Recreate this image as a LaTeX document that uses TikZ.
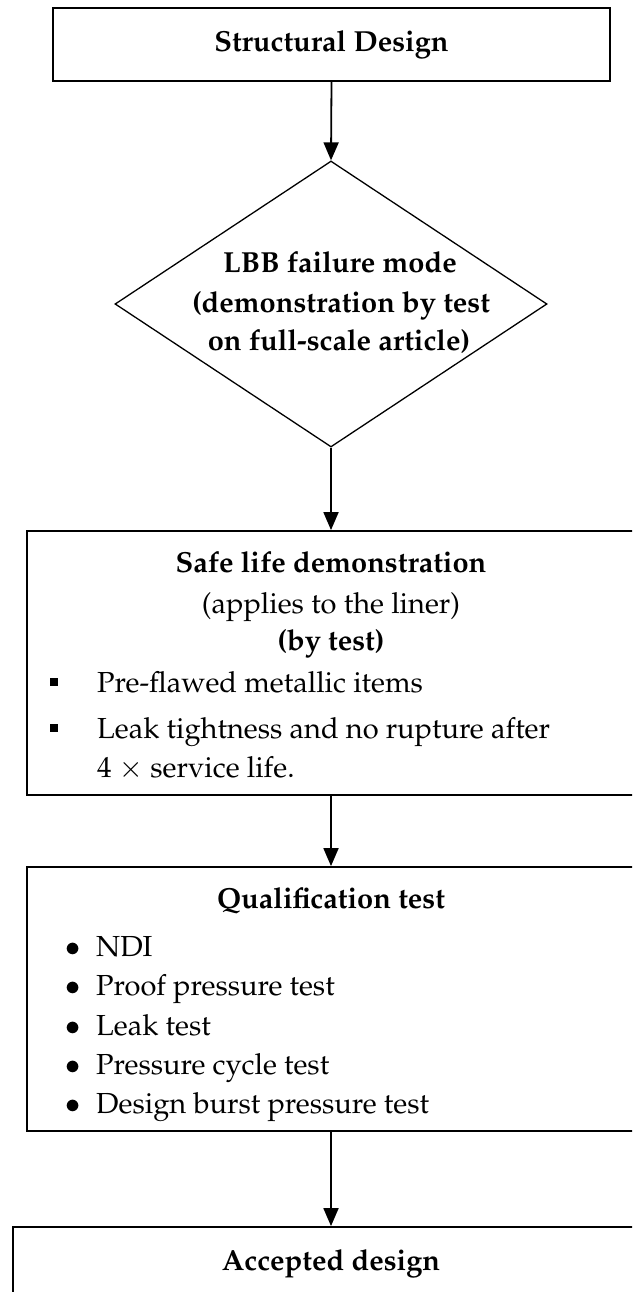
\documentclass[tikz,border=0pt]{standalone}
\usepackage[T1]{fontenc}
\usepackage{mathpazo}
\usetikzlibrary{shapes.geometric,arrows.meta}
\begin{document}
\begin{tikzpicture}[x=1pt,y=-1pt,
  box/.style={draw, line width=1.8pt, rectangle, inner sep=0pt},
  arr/.style={line width=1.8pt, -{Triangle[length=18pt,width=15pt]}},
  txt/.style={font=\fontsize{29}{39}\selectfont, inner sep=0pt},
  btxt/.style={font=\fontsize{29}{39}\selectfont\bfseries, inner sep=0pt},
  lbl/.style={anchor=base},
  lft/.style={anchor=base west}]
\useasboundingbox (0,0) rectangle (632,1292);
\clip (0,0) rectangle (632,1292);
% boxes
\node[box, minimum width=557pt, minimum height=73pt] (top) at (331.5,44.5) {};
\node[draw, diamond, line width=1.3pt, minimum width=432pt, minimum height=286pt, inner sep=0pt] (dia) at (331,304) {};
\node[box, minimum width=608pt, minimum height=264pt] (safe) at (331,663) {};
\node[box, minimum width=608pt, minimum height=264pt] (qual) at (331,999) {};
\node[box, minimum width=636pt, minimum height=116pt] (acc) at (331,1285) {};
% texts
\node[btxt, lbl] (t0) at (331.5,52) {Structural Design};
\node[btxt, lbl] (d1) at (340,272) {LBB failure mode};
\node[btxt, lbl] (d2) at (341,312) {(demonstration by test};
\node[btxt, lbl] (d3) at (339,350) {on full-scale article)};
\node[btxt, lbl] (s1) at (331,572) {Safe life demonstration};
\node[txt, lbl] (s2) at (331,613) {(applies to the liner)};
\node[btxt, lbl] (s3) at (331,650) {(by test)};
\node[fill, minimum size=8pt, inner sep=0pt] (sq1) at (54,682) {};
\node[fill, minimum size=8pt, inner sep=0pt] (sq2) at (54,728) {};
\node[txt, lft] (s4) at (97,692) {Pre-flawed metallic items};
\node[txt, lft] (s5) at (97,738) {Leak tightness and no rupture after};
\node[txt, lft] (s6) at (97,777) {4~$\times$~service life.};
\node[btxt, lbl] (q0) at (331,908) {Qualification test};
\node[txt, lbl] (b1) at (73,956) {$\bullet$};
\node[txt, lbl] (b2) at (73,995) {$\bullet$};
\node[txt, lbl] (b3) at (73,1035) {$\bullet$};
\node[txt, lbl] (b4) at (73,1074) {$\bullet$};
\node[txt, lbl] (b5) at (73,1113) {$\bullet$};
\node[txt, lft] (q1) at (96,956) {NDI};
\node[txt, lft] (q2) at (96,995) {Proof pressure test};
\node[txt, lft] (q3) at (96,1035) {Leak test};
\node[txt, lft] (q4) at (96,1074) {Pressure cycle test};
\node[txt, lft] (q5) at (96,1113) {Design burst pressure test};
\node[btxt, lbl] (a0) at (331,1270) {Accepted design};
% connectors
\draw[arr] (top.south) -- (dia.north);
\draw[arr] (dia.south) -- (safe.north);
\draw[arr] (safe.south) -- (qual.north);
\draw[arr] (qual.south) -- (acc.north);
\end{tikzpicture}
\end{document}
